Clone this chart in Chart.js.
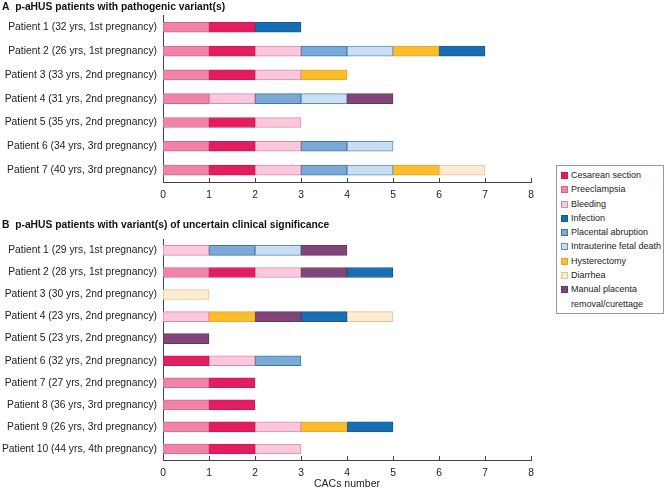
<!DOCTYPE html>
<html>
<head>
<meta charset="utf-8">
<script src="https://cdn.jsdelivr.net/npm/chart.js@4.4.0/dist/chart.umd.min.js"></script>
<style>
body { margin: 0; background: #fff; font-family: "Liberation Sans", Arial, sans-serif; }
#wrap { position: relative; width: 667px; height: 489px; }
#chartA { position: absolute; left: 0; top: 0; }
#chartB { position: absolute; left: 0; top: 215px; }
#legend { position: absolute; left: 556px; top: 165px; width: 108px; box-sizing: border-box;
          border: 1px solid #999; padding: 2px 0 2px 4px; font-size: 9px; line-height: 14.3px; color: #222; }
#legend .item { display: flex; align-items: flex-start; white-space: nowrap; }
#legend .sw { flex-shrink: 0; width: 5px; height: 5px; border: 1px solid; margin: 4px 3px 0 0; }
</style>
</head>
<body>
<div id="wrap">
  <canvas id="chartA" width="545" height="205"></canvas>
  <canvas id="chartB" width="545" height="274"></canvas>
  <div id="legend"></div>
</div>
<script>
const patientsA = ["Patient 1 (32 yrs, 1st pregnancy)", "Patient 2 (26 yrs, 1st pregnancy)", "Patient 3 (33 yrs, 2nd pregnancy)",
    "Patient 4 (31 yrs, 2nd pregnancy)", "Patient 5 (35 yrs, 2nd pregnancy)", "Patient 6 (34 yrs, 3rd pregnancy)",
    "Patient 7 (40 yrs, 3rd pregnancy)"];
const patientsB = ["Patient 1 (29 yrs, 1st pregnancy)", "Patient 2 (28 yrs, 1st pregnancy)", "Patient 3 (30 yrs, 2nd pregnancy)",
    "Patient 4 (23 yrs, 2nd pregnancy)", "Patient 5 (23 yrs, 2nd pregnancy)", "Patient 6 (32 yrs, 2nd pregnancy)",
    "Patient 7 (27 yrs, 2nd pregnancy)", "Patient 8 (36 yrs, 3rd pregnancy)", "Patient 9 (26 yrs, 3rd pregnancy)",
    "Patient 10 (44 yrs, 4th pregnancy)"];

// stacking order of the complications, left to right
const causes = ["Preeclampsia", "Cesarean section", "Bleeding", "Placental abruption", "Intrauterine fetal death",
    "Hysterectomy", "Manual placenta removal/curettage", "Infection", "Diarrhea"];
// order used in the legend box
const legendOrder = ["Cesarean section", "Preeclampsia", "Bleeding", "Infection", "Placental abruption",
    "Intrauterine fetal death", "Hysterectomy", "Diarrhea", "Manual placenta removal/curettage"];
const xTicks = [0, 1, 2, 3, 4, 5, 6, 7, 8];

// panel A (pathogenic variants)
const preeclampsiaA = [1, 1, 1, 1, 1, 1, 1];
const cesareanA     = [1, 1, 1, 0, 1, 1, 1];
const bleedingA     = [0, 1, 1, 1, 1, 1, 1];
const abruptionA    = [0, 1, 0, 1, 0, 1, 1];
const fetalDeathA   = [0, 1, 0, 1, 0, 1, 1];
const hysterectomyA = [0, 1, 1, 0, 0, 0, 1];
const manualA       = [0, 0, 0, 1, 0, 0, 0];
const infectionA    = [1, 1, 0, 0, 0, 0, 0];
const diarrheaA     = [0, 0, 0, 0, 0, 0, 1];

// panel B (uncertain significance)
const preeclampsiaB = [0, 1, 0, 0, 0, 0, 1, 1, 1, 1];
const cesareanB     = [0, 1, 0, 0, 0, 1, 1, 1, 1, 1];
const bleedingB     = [1, 1, 0, 1, 0, 1, 0, 0, 1, 1];
const abruptionB    = [1, 0, 0, 0, 0, 1, 0, 0, 0, 0];
const fetalDeathB   = [1, 0, 0, 0, 0, 0, 0, 0, 0, 0];
const hysterectomyB = [0, 0, 0, 1, 0, 0, 0, 0, 1, 0];
const manualB       = [1, 1, 0, 1, 1, 0, 0, 0, 0, 0];
const infectionB    = [0, 1, 0, 1, 0, 0, 0, 0, 1, 0];
const diarrheaB     = [0, 0, 1, 1, 0, 0, 0, 0, 0, 0];

const fills = {
    "Preeclampsia": "#f084a6", "Cesarean section": "#e21e60", "Bleeding": "#fac8da",
    "Placental abruption": "#7aaad5", "Intrauterine fetal death": "#c9dff1", "Hysterectomy": "#f9bd2d",
    "Manual placenta removal/curettage": "#804678", "Infection": "#186eb2", "Diarrhea": "#feecd2"
};
const edges = {
    "Preeclampsia": "#d8648c", "Cesarean section": "#c81a54", "Bleeding": "#e088a8",
    "Placental abruption": "#3e74ad", "Intrauterine fetal death": "#5d90c2", "Hysterectomy": "#e9a420",
    "Manual placenta removal/curettage": "#6b3563", "Infection": "#135a93", "Diarrhea": "#eebd94"
};
const FONT = '"Liberation Sans", Arial, sans-serif';

const innerTicks = {              // tick marks pointing up into the plot
    id: 'innerTicks',
    afterDraw(chart) {
        const xs = chart.scales.x, ctx = chart.ctx, bottom = chart.chartArea.bottom;
        ctx.save();
        ctx.strokeStyle = '#444';
        ctx.lineWidth = 1;
        xs.ticks.forEach((t, i) => {
            const px = Math.round(xs.getPixelForTick(i)) + 0.5;
            ctx.beginPath();
            ctx.moveTo(px, bottom);
            ctx.lineTo(px, bottom - 4);
            ctx.stroke();
        });
        ctx.restore();
    }
};

function makeDatasets(series) {
    return causes.map((name, i) => ({
        label: name,
        data: series[i].map(v => v || null),
        backgroundColor: fills[name],
        borderColor: edges[name],
        borderWidth: 1,
        borderSkipped: false,
        barThickness: 10
    }));
}

function makeChart(id, labels, series, title, titlePad, xTitle, xHeight) {
    return new Chart(document.getElementById(id), {
        type: 'bar',
        data: { labels: labels, datasets: makeDatasets(series) },
        plugins: [innerTicks],
        options: {
            indexAxis: 'y',
            responsive: false,
            animation: false,
            layout: { padding: { left: 2, right: 14, top: 0, bottom: 0 } },
            plugins: {
                legend: { display: false },
                tooltip: { enabled: false },
                title: {
                    display: true, text: title, align: 'start', color: '#111',
                    font: { family: FONT, size: 10.3, weight: 'bold', lineHeight: 1.2 },
                    padding: titlePad
                }
            },
            scales: {
                x: {
                    stacked: true, min: 0, max: 8,
                    afterBuildTicks: s => { s.ticks = xTicks.map(v => ({ value: v })); },
                    afterFit: s => { s.height = xHeight; },
                    grid: { display: false, drawTicks: false },
                    border: { display: true, color: '#444', width: 1 },
                    ticks: { color: '#222', padding: 7, font: { family: FONT, size: 10.3 } },
                    title: {
                        display: !!xTitle, text: xTitle, color: '#222', padding: { top: 0, bottom: 0 },
                        font: { family: FONT, size: 10.5, lineHeight: 1 }
                    }
                },
                y: {
                    stacked: true,
                    afterFit: s => { s.width = 161; },
                    grid: { display: false, drawTicks: false },
                    border: { display: true, color: '#444', width: 1 },
                    ticks: { color: '#222', padding: 6, font: { family: FONT, size: 10.3 } }
                }
            }
        }
    });
}

makeChart('chartA', patientsA,
    [preeclampsiaA, cesareanA, bleedingA, abruptionA, fetalDeathA, hysterectomyA, manualA, infectionA, diarrheaA],
    'A  p-aHUS patients with pathogenic variant(s)', { top: 1, bottom: 2 }, '', 23);
makeChart('chartB', patientsB,
    [preeclampsiaB, cesareanB, bleedingB, abruptionB, fetalDeathB, hysterectomyB, manualB, infectionB, diarrheaB],
    'B  p-aHUS patients with variant(s) of uncertain clinical significance', { top: 4, bottom: 8 }, 'CACs number', 29);

const legendBox = document.getElementById('legend');
legendOrder.forEach(name => {
    const item = document.createElement('div');
    item.className = 'item';
    const sw = document.createElement('span');
    sw.className = 'sw';
    sw.style.background = fills[name];
    sw.style.borderColor = edges[name];
    const txt = document.createElement('span');
    if (name === "Manual placenta removal/curettage") {
        txt.innerHTML = "Manual placenta<br>removal/curettage";
    } else {
        txt.textContent = name;
    }
    item.appendChild(sw);
    item.appendChild(txt);
    legendBox.appendChild(item);
});
</script>
</body>
</html>
